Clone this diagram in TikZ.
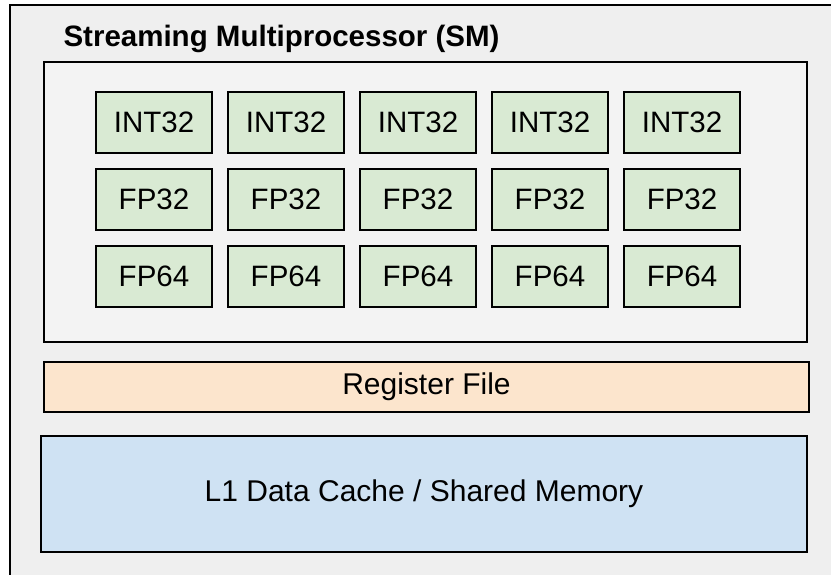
\documentclass[tikz,border=0pt]{standalone}
\usepackage{fontspec}
\setmainfont{Liberation Sans}
\definecolor{smouter}{HTML}{EFEFEF}
\definecolor{sminner}{HTML}{F3F3F3}
\definecolor{unitfill}{HTML}{D9EAD3}
\definecolor{regfill}{HTML}{FCE5CD}
\definecolor{cachefill}{HTML}{CFE2F3}
\tikzset{
  panel/.style={draw=black, line width=2.2pt, inner sep=0pt, outer sep=0pt},
  unit/.style={panel, fill=unitfill, minimum width=116pt, minimum height=61pt,
    font=\fontsize{29.5}{34}\selectfont},
  wide/.style={panel, font=\fontsize{30}{35}\selectfont},
}
\begin{document}
\begin{tikzpicture}[x=1pt, y=-1pt]
  \useasboundingbox[fill=white] (0,0) rectangle (831,574);
  \begin{scope}
    \clip (0,0) rectangle (831,574);
    % outer SM frame, running past the right and bottom edges
    \node[panel, fill=smouter, minimum width=850pt, minimum height=600pt, anchor=north west] (sm) at (10,5) {};
  \end{scope}
  \node[anchor=base west, font=\bfseries\fontsize{29.5}{34}\selectfont] (title) at (60,46) {Streaming Multiprocessor (SM)};
  % execution unit block
  \node[panel, fill=sminner, minimum width=763pt, minimum height=280pt] (cores) at (425.5,202) {};
  \foreach \c in {0,...,4} {
    \node[unit] (int\c) at (154+132*\c,122.5) {INT32};
    \node[unit] (fpa\c) at (154+132*\c,199.5) {FP32};
    \node[unit] (fpb\c) at (154+132*\c,276.5) {FP64};
  }
  \node[wide, fill=regfill, minimum width=765pt, minimum height=50pt] (reg) at (426.5,387) {Register File};
  \node[wide, fill=cachefill, minimum width=766pt, minimum height=116pt] (l1) at (424,494) {L1 Data Cache / Shared Memory};
\end{tikzpicture}
\end{document}
